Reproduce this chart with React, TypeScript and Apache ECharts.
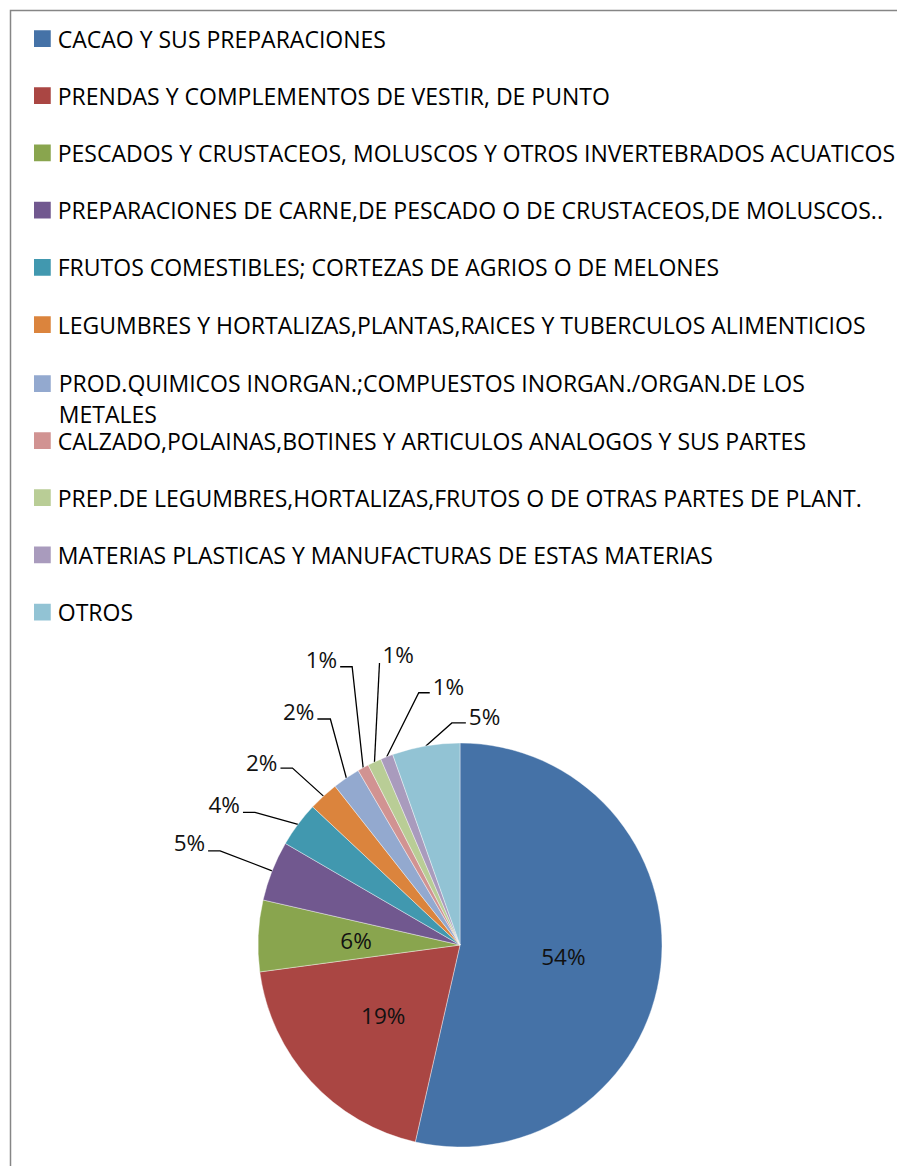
import React, { useEffect, useRef } from "react";
import * as echarts from "echarts";

const categories: string[] = [
  "CACAO Y SUS PREPARACIONES",
  "PRENDAS Y COMPLEMENTOS DE VESTIR, DE PUNTO",
  "PESCADOS Y CRUSTACEOS, MOLUSCOS Y OTROS INVERTEBRADOS ACUATICOS",
  "PREPARACIONES DE CARNE,DE PESCADO O DE CRUSTACEOS,DE MOLUSCOS..",
  "FRUTOS COMESTIBLES; CORTEZAS DE AGRIOS O DE MELONES",
  "LEGUMBRES Y HORTALIZAS,PLANTAS,RAICES Y TUBERCULOS ALIMENTICIOS",
  "PROD.QUIMICOS INORGAN.;COMPUESTOS INORGAN./ORGAN.DE LOS METALES",
  "CALZADO,POLAINAS,BOTINES Y ARTICULOS ANALOGOS Y SUS PARTES",
  "PREP.DE LEGUMBRES,HORTALIZAS,FRUTOS O DE OTRAS PARTES DE PLANT.",
  "MATERIAS PLASTICAS Y MANUFACTURAS DE ESTAS MATERIAS",
  "OTROS",
];

const shares: number[] = [53.5, 19.3, 5.7, 4.8, 3.6, 2.4, 2.2, 0.9, 1.1, 1.0, 5.4];

const colors: string[] = [
  "#4572A7", "#AA4643", "#89A54E", "#71588F", "#4198AF", "#DB843D",
  "#93A9CF", "#D19392", "#B9CD96", "#A99BBD", "#92C3D4",
];

const insideLabelIdx: number[] = [0, 1, 2];

// ---- layout / style constants ----
const W = 897;
const H = 1166;
const CX = 460;
const CY = 945;
const R = 202;
const FONT = "'Open Sans', Lato, sans-serif";
const FS = 23;
const LABEL_FS = 22.5;

// leader-line geometry for outside labels: elbow offset from slice edge, horizontal run, text offset
const outsideLayout: Record<number, { ex: number; ey: number; h: number; tx: number; ty: number; align: string }> = {
  3: { ex: -52, ey: -20, h: -12, tx: -3, ty: -8, align: "right" },
  4: { ex: -43, ey: -12, h: -12, tx: -3, ty: -8, align: "right" },
  5: { ex: -31, ey: -28, h: -12, tx: -3, ty: -6, align: "right" },
  6: { ex: -16, ey: -59, h: -13, tx: -3, ty: -7, align: "right" },
  7: { ex: -11, ey: -101, h: -12, tx: -3, ty: -7, align: "right" },
  8: { ex: 5, ey: -99, h: 0, tx: 3, ty: -8, align: "left" },
  9: { ex: 32, ey: -64, h: 11, tx: 3, ty: -6, align: "left" },
  10: { ex: 26, ey: -23, h: 14, tx: 3, ty: -6, align: "left" },
};

function anchorOf(i: number): [number, number] {
  const total = shares.reduce((a, b) => a + b, 0);
  let cum = 0;
  for (let k = 0; k < i; k++) cum += shares[k];
  const ang = ((cum + shares[i] / 2) / total) * Math.PI * 2;
  return [CX + R * Math.sin(ang), CY - R * Math.cos(ang)];
}

export default function App() {
  const ref = useRef<HTMLDivElement>(null);
  useEffect(() => {
    if (!ref.current) return;
    const chart = echarts.init(ref.current, null, { renderer: "svg" });
    const data = categories.map((name, i) => {
      const inside = insideLabelIdx.includes(i);
      return {
        name,
        value: shares[i],
        itemStyle: { color: colors[i] },
        label: inside ? { position: "inside" } : { position: "outside" },
        labelLine: { show: !inside },
      };
    });
    const richBase = { fontFamily: FONT, fontSize: FS, color: "#000", padding: [0, 0, 0, 1] };
    const legendText = {
      fontFamily: FONT,
      fontSize: FS,
      color: "#000",
      lineHeight: 30,
      padding: [0, 0, 0, 1],
      rich: {
        l1: { ...richBase, lineHeight: 60 },
        l2: { ...richBase, lineHeight: 2 },
      },
    };
    const legendCommon = {
      orient: "vertical",
      left: 32,
      padding: 0,
      itemWidth: 18.75,
      itemHeight: 18.75,
      itemGap: 27.2,
      icon: "rect",
      selectedMode: false,
      textStyle: legendText,
      formatter: (name: string) => {
        const k = name.lastIndexOf(" METALES");
        if (k < 0) return name;
        return "{l1|" + name.slice(0, k) + "}\n{l2|" + name.slice(k + 1) + "}";
      },
    };
    chart.setOption({
      animation: false,
      backgroundColor: "#fff",
      color: colors,
      legend: [
        { ...legendCommon, top: 23.5, data: categories.slice(0, 6) },
        { ...legendCommon, top: 352.5, data: categories.slice(6, 7) },
        { ...legendCommon, top: 425.5, data: categories.slice(7) },
      ],
      graphic: [
        {
          type: "polyline",
          shape: { points: [[10.5, H], [10.5, 10.5], [W, 10.5]] },
          style: { stroke: "#868686", lineWidth: 1.5, fill: null },
          silent: true,
        },
      ],
      series: [
        {
          type: "pie",
          center: [CX, CY],
          radius: [0, R],
          startAngle: 90,
          clockwise: true,
          avoidLabelOverlap: false,
          itemStyle: { borderColor: "#fff", borderWidth: 0.4 },
          label: {
            show: true,
            fontFamily: FONT,
            fontSize: LABEL_FS,
            color: "#111",
            formatter: (p: any) => Math.round(p.percent) + "%",
          },
          labelLine: {
            show: true,
            length: 10,
            length2: 10,
            lineStyle: { color: "#000", width: 1.3 },
          },
          labelLayout: (p: any) => {
            const lay = outsideLayout[p.dataIndex];
            if (!lay) return {};
            const a = anchorOf(p.dataIndex);
            const elbow: [number, number] = [a[0] + lay.ex, a[1] + lay.ey];
            const end: [number, number] = [elbow[0] + lay.h, elbow[1]];
            return {
              x: end[0] + lay.tx,
              y: end[1] + lay.ty,
              align: lay.align,
              verticalAlign: "middle",
              labelLinePoints: [a, elbow, end],
            };
          },
          data,
        },
      ],
    });
    return () => chart.dispose();
  }, []);
  return (
    <div
      ref={ref}
      style={{ position: "fixed", left: 0, top: 0, width: W, height: H, background: "#fff" }}
    />
  );
}
